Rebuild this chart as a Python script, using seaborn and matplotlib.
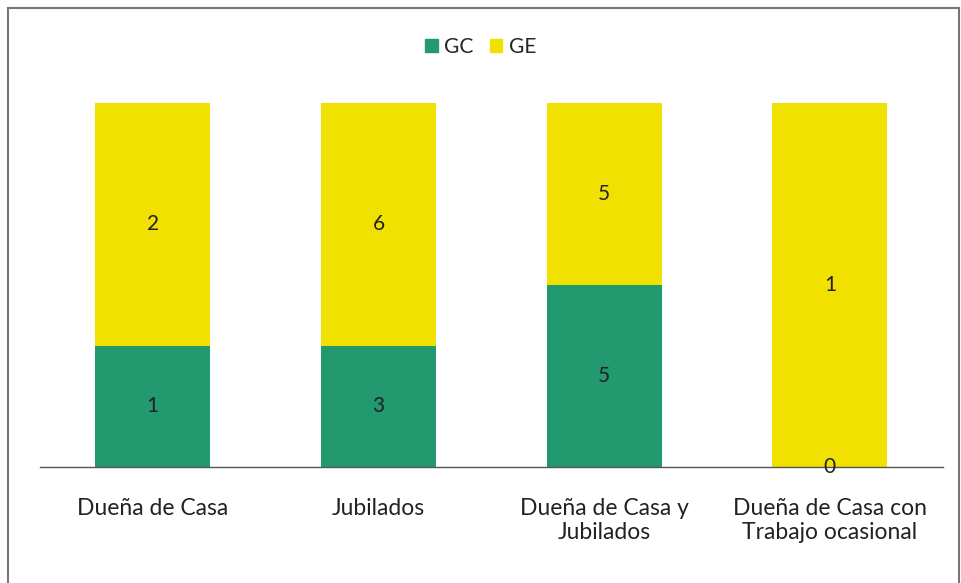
import pandas as pd
import numpy as np
import matplotlib.pyplot as plt
import seaborn as sns
from matplotlib.patches import Rectangle, Patch

# --- datos ---
categorias = ['Dueña de Casa', 'Jubilados', 'Dueña de Casa y\nJubilados',
              'Dueña de Casa con\nTrabajo ocasional']
gc = [1, 3, 5, 0]
ge = [2, 6, 5, 1]

verde = '#23996F'
amarillo = '#F0E100'

df = pd.DataFrame({'Categoria': categorias, 'GC': gc, 'GE': ge})
df['Total'] = df['GC'] + df['GE']
df['pGC'] = df['GC'] / df['Total']
df['pTot'] = 1.0

sns.set_style("white")
plt.rcParams['font.family'] = ['Lato', 'DejaVu Sans']

fig = plt.figure(figsize=(9.61, 5.83), dpi=100)
ax = fig.add_axes([0.0416, 0.199, 0.9394, 0.624])

# barras apiladas al 100%
sns.barplot(data=df, x='Categoria', y='pTot', color=amarillo, width=0.51,
            saturation=1, linewidth=0, ax=ax)
sns.barplot(data=df, x='Categoria', y='pGC', color=verde, width=0.51,
            saturation=1, linewidth=0, ax=ax)

# etiquetas dentro de las barras
for i, row in df.iterrows():
    ax.text(i, row['pGC'] / 2, str(row['GC']), ha='center', va='center',
            fontsize=15, color='#222222')
    ax.text(i, row['pGC'] + (1 - row['pGC']) / 2, str(row['GE']),
            ha='center', va='center', fontsize=15, color='#222222')

ax.set_ylim(0, 1)
ax.set_xlim(-0.5, 3.5)
ax.set_yticks([])
ax.set_xlabel('')
ax.set_ylabel('')
for s in ['top', 'left', 'right']:
    ax.spines[s].set_visible(False)
ax.spines['bottom'].set_color('#555555')
ax.spines['bottom'].set_linewidth(1.0)
ax.tick_params(axis='x', length=0, pad=22, labelsize=16.5, labelcolor='#222222')
for lbl in ax.get_xticklabels():
    lbl.set_verticalalignment('top')
    lbl.set_linespacing(1.2)

handles = [Patch(color=verde, label='GC'), Patch(color=amarillo, label='GE')]
fig.legend(handles=handles, loc='center', bbox_to_anchor=(0.5, 0.919),
           ncol=2, frameon=False, fontsize=15, handlelength=0.6,
           handleheight=0.6, columnspacing=0.8, handletextpad=0.3)

# marco del gráfico
fig.patches.append(Rectangle((0.008, -0.01), 0.99, 0.996, transform=fig.transFigure,
                             fill=False, edgecolor='#777777', linewidth=1.5))

fig.savefig('out.png', dpi=100)
